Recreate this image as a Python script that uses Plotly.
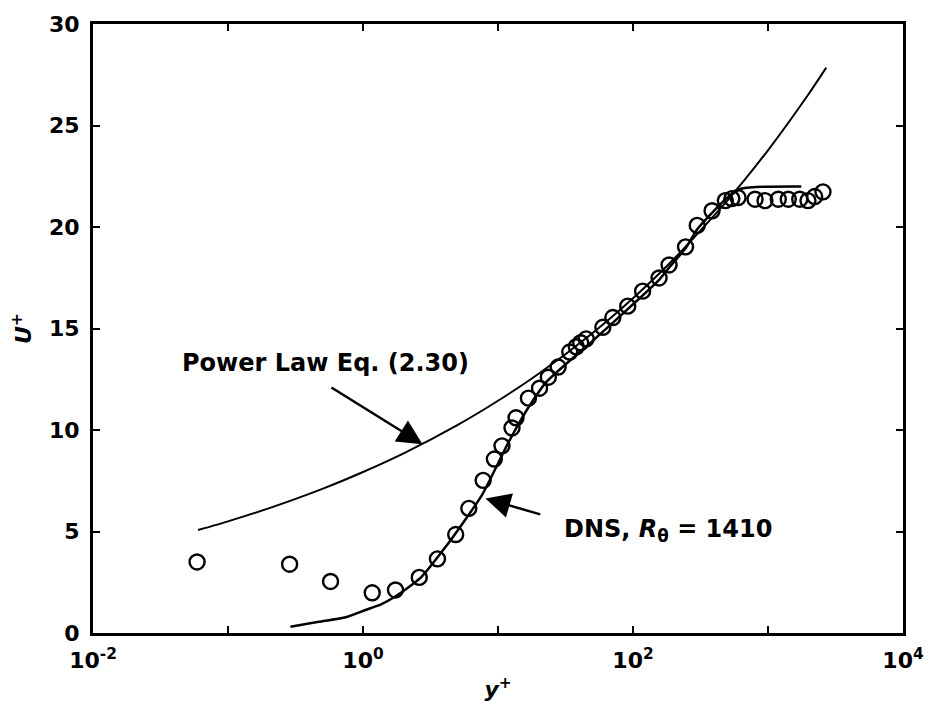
import plotly.graph_objects as go

# ---- data ----
# DNS profile (solid line)
dns_yplus = [0.29, 0.47, 0.73, 1.03, 1.36, 1.71, 2.69, 4.22, 5.6, 7.6, 9.29, 11.6, 14.6,
             18.3, 22.9, 32.1, 50.5, 94, 156, 185, 245, 300, 385, 511, 640, 1766]
dns_u = [0.31, 0.55, 0.76, 1.12, 1.41, 1.77, 2.74, 4.36, 5.49, 6.79, 7.92, 9.22, 10.44,
         11.49, 12.38, 13.27, 14.4, 16.03, 17.4, 18.0, 18.95, 19.9, 20.7, 21.5, 21.9, 22.0]

# Power law Eq. (2.30) (thin line)
pl_yplus = [0.06, 0.1, 0.2, 0.5, 1, 2, 5, 10, 20, 50, 100, 200, 500, 1000, 2000, 2700]
pl_u = [5.07, 5.50, 6.14, 7.10, 7.93, 8.85, 10.24, 11.44, 12.77, 14.77, 16.49, 18.41,
        21.30, 23.78, 26.55, 27.85]

# Experimental data (open circles)
exp_yplus = [0.059, 0.286, 0.575, 1.17, 1.74, 2.61, 3.56, 4.86, 6.08, 7.76, 9.4, 10.7,
             12.7, 13.6, 16.8, 20.3, 23.6, 27.9, 34, 38, 41, 45, 59.8, 70.9, 91.4, 117.8,
             156, 185, 245, 299, 385, 483, 540, 600, 802, 950, 1192, 1413, 1718, 1977,
             2217, 2553]
exp_u = [3.5, 3.39, 2.54, 1.98, 2.12, 2.74, 3.65, 4.85, 6.14, 7.52, 8.57, 9.22,
         10.1, 10.6, 11.57, 12.06, 12.6, 13.1, 13.84, 14.1, 14.3, 14.49, 15.06, 15.54, 16.1, 16.84,
         17.49, 18.13, 19.02, 20.08, 20.8, 21.3, 21.4, 21.45, 21.37, 21.3, 21.37, 21.37, 21.37, 21.3,
         21.5, 21.73]

xtick_vals = [0.01, 0.1, 1, 10, 100, 1000, 10000]
xtick_text = ["10<sup>-2</sup>", "", "10<sup>0</sup>", "", "10<sup>2</sup>", "", "10<sup>4</sup>"]
ytick_vals = [0, 5, 10, 15, 20, 25, 30]

FONT = "DejaVu Sans"

fig = go.Figure()
fig.add_trace(go.Scatter(x=pl_yplus, y=pl_u, mode="lines",
                         line=dict(color="black", width=2, shape="spline", smoothing=0.6)))
fig.add_trace(go.Scatter(x=dns_yplus, y=dns_u, mode="lines",
                         line=dict(color="black", width=2.5, shape="spline", smoothing=0.6)))
fig.add_trace(go.Scatter(x=exp_yplus, y=exp_u, mode="markers",
                         marker=dict(symbol="circle-open", size=15, color="black",
                                     line=dict(width=2.4, color="black"))))

fig.update_layout(
    width=936, height=711,
    margin=dict(l=93, r=26, t=16, b=78),
    paper_bgcolor="white", plot_bgcolor="white",
    showlegend=False,
    font=dict(family=FONT, size=22, color="black", weight="bold"),
)
fig.update_xaxes(
    type="log", range=[-2, 4],
    tickmode="array", tickvals=xtick_vals, ticktext=xtick_text,
    ticks="inside", ticklen=7, tickwidth=2, tickcolor="black",
    showline=True, linewidth=3, linecolor="black", mirror="ticks",
    showgrid=False, zeroline=False, ticklabelstandoff=6,
    title=dict(text="<i>y</i><sup>+</sup>", standoff=10,
               font=dict(family=FONT, size=22, weight="bold")),
)
fig.update_yaxes(
    range=[0, 30], tickmode="array", tickvals=ytick_vals,
    ticks="inside", ticklen=7, tickwidth=2, tickcolor="black",
    showline=True, linewidth=3, linecolor="black", mirror="ticks",
    showgrid=False, zeroline=False, ticklabelstandoff=6,
    title=dict(text="<i>U</i><sup>+</sup>", standoff=12,
               font=dict(family=FONT, size=22, weight="bold")),
)

# arrows
fig.add_annotation(x=0.441, y=9.30, ax=-0.245, ay=12.14, xref="x", yref="y",
                   axref="x", ayref="y", text="", showarrow=True,
                   arrowhead=2, arrowsize=2, arrowwidth=2.5, arrowcolor="black")
fig.add_annotation(x=0.907, y=6.63, ax=1.324, ay=5.82, xref="x", yref="y",
                   axref="x", ayref="y", text="", showarrow=True,
                   arrowhead=2, arrowsize=2, arrowwidth=2.5, arrowcolor="black")
# labels
fig.add_annotation(x=-0.279, y=13.32, xref="x", yref="y", text="Power Law Eq. (2.30)",
                   showarrow=False, font=dict(family=FONT, size=24, weight="bold", color="black"))
fig.add_annotation(x=2.257, y=5.06, xref="x", yref="y",
                   text="DNS, <i>R</i><sub>θ</sub> = 1410",
                   showarrow=False, font=dict(family=FONT, size=24, weight="bold", color="black"))

fig.write_html("out.html")
